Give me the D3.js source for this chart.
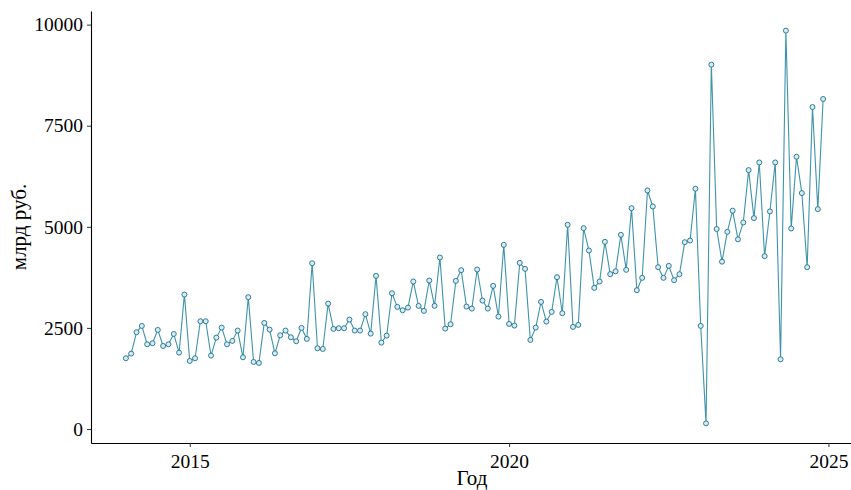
<!DOCTYPE html>
<html>
<head>
<meta charset="utf-8">
<script src="https://cdn.jsdelivr.net/npm/d3@7"></script>
<style>
  body { margin: 0; background: #fff; }
  svg text { font-family: "Liberation Serif", "DejaVu Serif", serif; fill: #000; }
</style>
</head>
<body>
<svg width="851" height="490"></svg>
<script>
var width = 851,
    height = 490;

// monthly values, Jan 2014 .. Dec 2024 (bn rub)
var startYear = 2014;
var values = [
  1750, 1864, 2393, 2550, 2096, 2121, 2450, 2054, 2096, 2351, 1889, 3325,
  1683, 1750, 2665, 2665, 1815, 2261, 2508, 2096, 2178, 2434, 1774, 3260,
  1658, 1634, 2624, 2459, 1873, 2318, 2434, 2269, 2170, 2500, 2228, 4100,
  1997, 1980, 3101, 2475, 2492, 2492, 2706, 2434, 2434, 2840, 2359, 3787,
  2137, 2310, 3358, 3020, 2937, 3003, 3647, 3045, 2921, 3672, 3045, 4241,
  2483, 2591, 3663, 3928, 3028, 2978, 3944, 3176, 2978, 3540, 2780, 4554,
  2599, 2558, 4109, 3960, 2203, 2508, 3144, 2656, 2896, 3754, 2863, 5050,
  2525, 2574, 4967, 4414, 3490, 3647, 4629, 3830, 3900, 4802, 3936, 5462,
  3432, 3738, 5899, 5503, 4002, 3738, 4035, 3680, 3828, 4620, 4661, 5941,
  2550, 140, 9010, 4946, 4138, 4876, 5400, 4690, 5107, 6403, 5215, 6592,
  4274, 5380, 6592, 1725, 9851, 4959, 6733, 5834, 4002, 7962, 5437, 8161
];
var xTicks = [2015, 2020, 2025];
var yTicks = [0, 2500, 5000, 7500, 10000];

var data = values.map(function(v, i) {
  return { t: startYear + i / 12, v: v };
});

var svg = d3.select("svg");

// panel runs a little past the right edge of the picture
var padL = 91, padR = 858, padT = 11, padB = 443;

// ggplot-like 5% expansion
var xExt = d3.extent(data, function(d) { return d.t; });
var xPad = (xExt[1] - xExt[0]) * 0.05;
var yExt = d3.extent(data, function(d) { return d.v; });
var yPad = (yExt[1] - yExt[0]) * 0.05;

var x = d3.scaleLinear()
  .domain([xExt[0] - xPad, xExt[1] + xPad])
  .range([padL, padR]);

var y = d3.scaleLinear()
  .domain([yExt[0] - yPad, yExt[1] + yPad])
  .range([padB, padT]);

var line = d3.line()
  .x(function(d) { return x(d.t); })
  .y(function(d) { return y(d.v); });

svg.append("path")
  .datum(data)
  .attr("d", line)
  .attr("fill", "none")
  .attr("stroke", "#3f93ab")
  .attr("stroke-width", 1.1);

svg.selectAll("circle")
  .data(data)
  .enter().append("circle")
  .attr("cx", function(d) { return x(d.t); })
  .attr("cy", function(d) { return y(d.v); })
  .attr("r", 2.5)
  .attr("fill", "#d6ecf2")
  .attr("stroke", "#1f6f8b")
  .attr("stroke-width", 0.9);

// axes
var xAxis = svg.append("g")
  .attr("transform", "translate(0," + padB + ")")
  .call(d3.axisBottom(x).tickValues(xTicks).tickFormat(d3.format("d")).tickSize(4).tickSizeOuter(0));

var yAxis = svg.append("g")
  .attr("transform", "translate(" + padL + ",0)")
  .call(d3.axisLeft(y).tickValues(yTicks).tickFormat(d3.format("d")).tickSize(4).tickSizeOuter(0));

[xAxis, yAxis].forEach(function(a) {
  a.attr("font-size", null).attr("font-family", null);
  a.select(".domain").attr("stroke", "#000").attr("stroke-width", 1.1);
  a.selectAll(".tick line").attr("stroke", "#333").attr("stroke-width", 1);
  a.selectAll(".tick text")
    .style("font-size", "19.5px")
    .attr("fill", "#000");
});
xAxis.selectAll(".tick text").attr("dy", "0.9em").attr("y", 7);
yAxis.selectAll(".tick text").attr("x", -8);

svg.append("text")
  .attr("x", 472)
  .attr("y", 485)
  .attr("text-anchor", "middle")
  .style("font-size", "21px")
  .text("Год");

svg.append("text")
  .attr("transform", "translate(26," + ((padT + padB) / 2) + ") rotate(-90)")
  .attr("text-anchor", "middle")
  .style("font-size", "21px")
  .text("млрд руб.");
</script>
</body>
</html>
